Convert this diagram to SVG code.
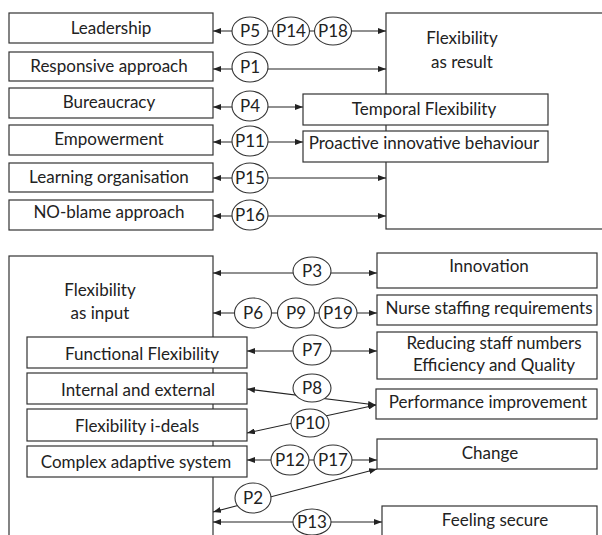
<svg xmlns="http://www.w3.org/2000/svg" width="602" height="535" viewBox="0 0 602 535">
<defs>
<marker id="ah" viewBox="0 0 8 6" refX="8" refY="3" markerWidth="8" markerHeight="6" markerUnits="userSpaceOnUse" orient="auto-start-reverse">
<path d="M0,0 L8,3 L0,6 z" fill="#222"/>
</marker>
<style>
.box{fill:#fff;stroke:#333;stroke-width:1.2}
.t{font-family:Lato,"Noto Sans",sans-serif;font-size:17px;fill:#222;text-anchor:middle}
.c{fill:#fff;stroke:#333;stroke-width:1.1}
.ln{stroke:#222;stroke-width:1.1;fill:none;marker-start:url(#ah);marker-end:url(#ah)}
</style>
</defs>
<rect width="602" height="535" fill="#fff"/>

<g id="flex-result"><rect class="box" x="386" y="13" width="230" height="216"/><text class="t" x="462" y="44">Flexibility</text><text class="t" x="462" y="68">as result</text></g>
<g id="flex-input"><rect class="box" x="9" y="256" width="204" height="300"/><text class="t" x="100" y="296">Flexibility</text><text class="t" x="100" y="319">as input</text></g>

<g id="connectors">
<line class="ln" x1="213" y1="31" x2="386" y2="31"/>
<line class="ln" x1="213" y1="69" x2="386" y2="69"/>
<line class="ln" x1="213" y1="107" x2="303" y2="107"/>
<line class="ln" x1="213" y1="142" x2="303" y2="142"/>
<line class="ln" x1="213" y1="178" x2="386" y2="178"/>
<line class="ln" x1="213" y1="216" x2="386" y2="216"/>
<line class="ln" x1="213" y1="273" x2="377" y2="273"/>
<line class="ln" x1="213" y1="313" x2="377" y2="313"/>
<line class="ln" x1="247" y1="351" x2="377" y2="351"/>
<line class="ln" x1="247" y1="389" x2="376" y2="405"/>
<line class="ln" x1="247" y1="433" x2="376" y2="405"/>
<line class="ln" x1="247" y1="460" x2="377" y2="460"/>
<line class="ln" x1="213" y1="512" x2="377" y2="469"/>
<line class="ln" x1="213" y1="522" x2="382" y2="522"/>
</g>

<g id="leadership"><rect class="box" x="9" y="13" width="204" height="30"/><text class="t" x="111" y="34">Leadership</text></g>
<g id="responsive"><rect class="box" x="9" y="52" width="204" height="29"/><text class="t" x="109" y="72">Responsive approach</text></g>
<g id="bureaucracy"><rect class="box" x="9" y="88" width="204" height="30"/><text class="t" x="109" y="108">Bureaucracy</text></g>
<g id="empowerment"><rect class="box" x="9" y="125" width="204" height="30"/><text class="t" x="109" y="145">Empowerment</text></g>
<g id="learning"><rect class="box" x="9" y="163" width="204" height="29"/><text class="t" x="109" y="183">Learning organisation</text></g>
<g id="noblame"><rect class="box" x="9" y="200" width="204" height="30"/><text class="t" x="109" y="218">NO-blame approach</text></g>
<g id="temporal"><rect class="box" x="303" y="94" width="245" height="31"/><text class="t" x="424" y="115">Temporal Flexibility</text></g>
<g id="proactive"><rect class="box" x="303" y="131" width="245" height="31"/><text class="t" x="424" y="149">Proactive innovative behaviour</text></g>

<g id="functional"><rect class="box" x="27" y="337" width="220" height="31"/><text class="t" x="142" y="360">Functional Flexibility</text></g>
<g id="internal"><rect class="box" x="27" y="373" width="220" height="31"/><text class="t" x="138" y="396">Internal and external</text></g>
<g id="ideals"><rect class="box" x="27" y="409" width="220" height="32"/><text class="t" x="137" y="432">Flexibility i-deals</text></g>
<g id="complex"><rect class="box" x="27" y="446" width="220" height="31"/><text class="t" x="136" y="468">Complex adaptive system</text></g>

<g id="innovation"><rect class="box" x="377" y="253" width="220" height="35"/><text class="t" x="489" y="272">Innovation</text></g>
<g id="nurse"><rect class="box" x="377" y="295" width="220" height="30"/><text class="t" x="489" y="314">Nurse staffing requirements</text></g>
<g id="reducing"><rect class="box" x="377" y="332" width="220" height="47"/><text class="t" x="494" y="349">Reducing staff numbers</text><text class="t" x="494" y="371">Efficiency and Quality</text></g>
<g id="performance"><rect class="box" x="376" y="389" width="221" height="30"/><text class="t" x="488" y="408">Performance improvement</text></g>
<g id="change"><rect class="box" x="377" y="439" width="220" height="30"/><text class="t" x="490" y="459">Change</text></g>
<g id="secure"><rect class="box" x="382" y="506" width="215" height="40"/><text class="t" x="495" y="526">Feeling secure</text></g>

<g id="p5"><ellipse class="c" cx="250" cy="31" rx="18" ry="14"/><text class="t" x="250" y="37">P5</text></g>
<g id="p14"><ellipse class="c" cx="291" cy="31" rx="18.5" ry="14"/><text class="t" x="291" y="37">P14</text></g>
<g id="p18"><ellipse class="c" cx="333" cy="31" rx="18.5" ry="14"/><text class="t" x="333" y="37">P18</text></g>
<g id="p1"><ellipse class="c" cx="250" cy="67" rx="18" ry="15"/><text class="t" x="250" y="73">P1</text></g>
<g id="p4"><ellipse class="c" cx="250" cy="106" rx="18" ry="15"/><text class="t" x="250" y="112">P4</text></g>
<g id="p11"><ellipse class="c" cx="250" cy="141" rx="18" ry="15"/><text class="t" x="250" y="147">P11</text></g>
<g id="p15"><ellipse class="c" cx="250" cy="178" rx="18" ry="15"/><text class="t" x="250" y="184">P15</text></g>
<g id="p16"><ellipse class="c" cx="250" cy="215" rx="18" ry="15"/><text class="t" x="250" y="221">P16</text></g>

<g id="p3"><ellipse class="c" cx="312" cy="271" rx="19" ry="14"/><text class="t" x="312" y="277">P3</text></g>
<g id="p6"><ellipse class="c" cx="253" cy="313" rx="18.5" ry="15"/><text class="t" x="253" y="319">P6</text></g>
<g id="p9"><ellipse class="c" cx="296" cy="313" rx="18.5" ry="15"/><text class="t" x="296" y="319">P9</text></g>
<g id="p19"><ellipse class="c" cx="338" cy="313" rx="19" ry="15"/><text class="t" x="338" y="319">P19</text></g>
<g id="p7"><ellipse class="c" cx="312" cy="350" rx="19" ry="15"/><text class="t" x="312" y="356">P7</text></g>
<g id="p8"><ellipse class="c" cx="312" cy="388" rx="19" ry="14"/><text class="t" x="312" y="394">P8</text></g>
<g id="p10"><ellipse class="c" cx="310" cy="423" rx="19" ry="14"/><text class="t" x="310" y="429">P10</text></g>
<g id="p12"><ellipse class="c" cx="290" cy="460" rx="19" ry="15"/><text class="t" x="290" y="466">P12</text></g>
<g id="p17"><ellipse class="c" cx="333" cy="460" rx="19" ry="15"/><text class="t" x="333" y="466">P17</text></g>
<g id="p2"><ellipse class="c" cx="253" cy="498" rx="18" ry="15"/><text class="t" x="253" y="504">P2</text></g>
<g id="p13"><ellipse class="c" cx="312" cy="522" rx="19" ry="13"/><text class="t" x="312" y="528">P13</text></g>
</svg>
